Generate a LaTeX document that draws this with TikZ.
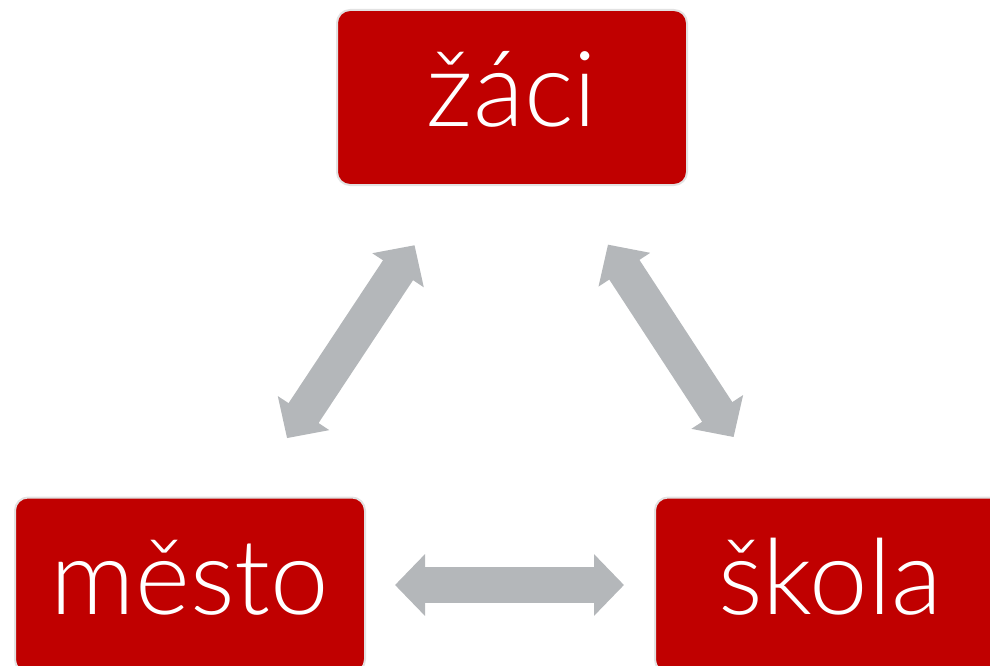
\documentclass[tikz,border=0pt]{standalone}
\usepackage{fontspec}
\newfontfamily\boxfont{Lato Light}
\usepackage{tikz}
\usetikzlibrary{arrows.meta}
\definecolor{boxred}{RGB}{192,0,0}
\definecolor{boxrim}{RGB}{226,226,226}
\definecolor{arrowgray}{RGB}{180,183,186}

\begin{document}
\begin{tikzpicture}[x=1pt, y=-1pt,
		box/.style={draw=boxrim, line width=2pt, fill=boxred, rounded corners=13pt,
			minimum width=350pt, minimum height=175pt, inner sep=0pt, text=white,
			font=\boxfont\fontsize{105}{110}\selectfont, text height=70pt, text depth=12pt},
		link/.style={draw=arrowgray, line width=36pt,
			{Triangle[length=30pt,width=60pt]}-{Triangle[length=30pt,width=60pt]}}]
		\path [use as bounding box, clip] (0, 0) rectangle (990, 666);
		
		\node [box] (zaci) at (512, 97.5) {žáci};
		\node [box] (mesto) at (190, 585) {město};
		\node [box] (skola) at (830, 585) {škola};
		
		\draw [link, shorten <=70pt, shorten >=71pt] (mesto) -- (zaci);
		\draw [link, shorten <=70pt, shorten >=71pt] (zaci) -- (skola);
		\draw [link, shorten <=29pt, shorten >=30pt] (mesto) -- (skola);
		\end{tikzpicture}
\end{document}
